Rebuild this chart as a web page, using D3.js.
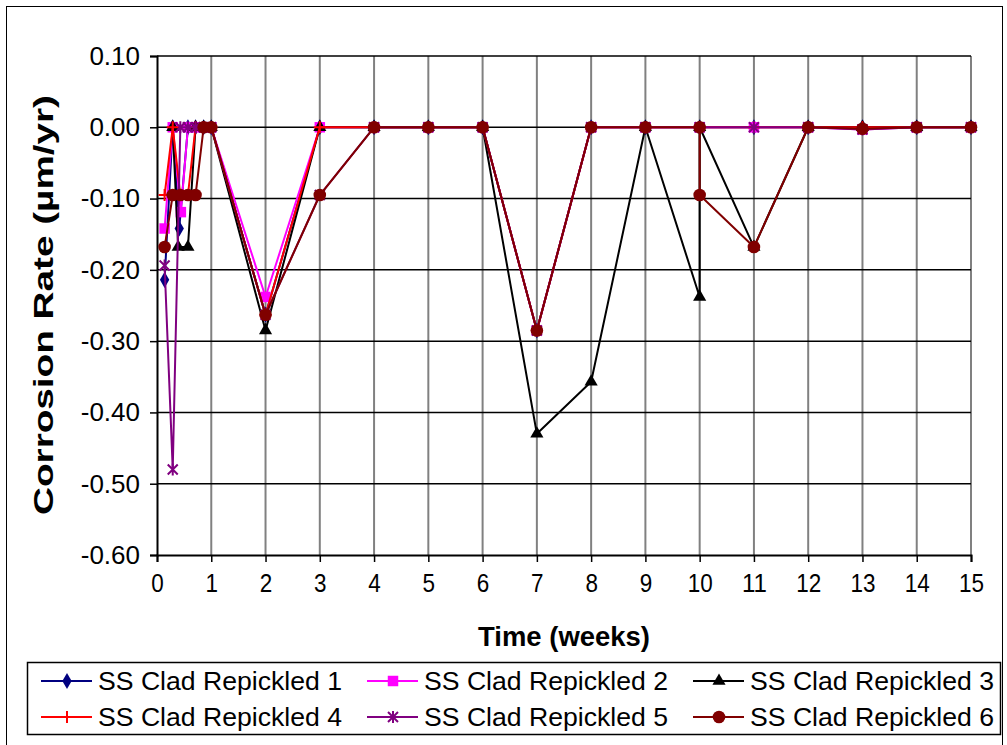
<!DOCTYPE html>
<html><head><meta charset="utf-8">
<script src="https://cdn.jsdelivr.net/npm/d3@7"></script>
<style>body{margin:0;background:#fff}svg{display:block;font-family:"Liberation Sans",Arial,sans-serif}</style>
</head><body><svg id="c" width="1007" height="745"></svg>
<script>
// ---- data ----
const seriesNames = ["SS Clad Repickled 1","SS Clad Repickled 2","SS Clad Repickled 3","SS Clad Repickled 4","SS Clad Repickled 5","SS Clad Repickled 6"];
const xTicks = [0,1,2,3,4,5,6,7,8,9,10,11,12,13,14,15];
const yTicks = [0.1,0,-0.1,-0.2,-0.3,-0.4,-0.5,-0.6];
const yTickLabels = ["0.10","0.00","-0.10","-0.20","-0.30","-0.40","-0.50","-0.60"];

const s1x = [0.14,0.29,0.41,0.57,0.71,0.86,1,2,3,4,5,6,7,8,9,10,11,12,13,14,15];
const s1y = [-0.214,0,-0.142,0,0,0,0,-0.263,0,0,0,0,-0.285,0,0,0,0,0,0,0,0];
const s2x = [0.14,0.29,0.44,0.57,0.71,0.86,1,2,3,4,5,6,7,8,9,10,11,12,13,14,15];
const s2y = [-0.142,0,-0.119,0,0,0,0,-0.238,0,0,0,0,-0.285,0,0,0,0,0,-0.003,0,0];
const s3x = [0.29,0.39,0.57,0.71,0.86,1,2,3,4,5,6,7,8,9,10,10,11,12,13,14,15];
const s3y = [0,-0.168,-0.168,0,0,0,-0.285,0,0,0,0,-0.43,-0.357,0,-0.238,0,-0.168,0,0,0,0];
const s4x = [0.14,0.29,0.43,0.57,0.71,0.86,1,2,3,4,5,6,7,8,9,10,11,12,13,14,15];
const s4y = [-0.095,0,-0.095,-0.095,0,0,0,-0.263,0,0,0,0,-0.285,0,0,0,0,0,0,0,0];
const s5x = [0.14,0.29,0.43,0.57,0.71,0.86,1,2,3,4,5,6,7,8,9,10,11,12,13,14,15];
const s5y = [-0.194,-0.48,0,0,0,0,0,-0.263,-0.095,0,0,0,-0.285,0,0,0,0,0,-0.003,0,0];
const s6x = [0.14,0.29,0.43,0.57,0.71,0.86,1,2,3,4,5,6,7,8,9,10,10,11,12,13,14,15];
const s6y = [-0.168,-0.095,-0.095,-0.095,-0.095,0,0,-0.263,-0.095,0,0,0,-0.285,0,0,0,-0.095,-0.168,0,-0.002,0,0];

const colors = ["#000080","#FF00FF","#000000","#FF0000","#800080","#800000"];
const markers = ["diamond","square","triangle","plus","star","circle"];
const xs = [s1x,s2x,s3x,s4x,s5x,s6x], ys = [s1y,s2y,s3y,s4y,s5y,s6y];

// ---- layout ----
const L=157,R=971,T=56,B=555;
const svg = d3.select("#c");
svg.append("rect").attr("x",6.5).attr("y",6.5).attr("width",996).attr("height",760).attr("fill","#fff").attr("stroke","#000").attr("stroke-width",1);

const x = d3.scaleLinear().domain([0,15]).range([L,R]);
const y = d3.scaleLinear().domain([-0.6,0.1]).range([B,T]);

// gridlines
svg.append("g").selectAll("line").data(xTicks.filter(d=>d>0)).join("line")
  .attr("x1",d=>x(d)).attr("x2",d=>x(d)).attr("y1",T).attr("y2",B)
  .attr("stroke","#808080").attr("stroke-width",2);
svg.append("g").selectAll("line").data(yTicks.filter(d=>d>-0.6)).join("line")
  .attr("x1",L).attr("x2",R).attr("y1",d=>y(d)).attr("y2",d=>y(d))
  .attr("stroke","#000").attr("stroke-width",1.5);

// axes
const yAxis = d3.axisLeft(y).tickValues(yTicks).tickSize(7).tickFormat((d,i)=>yTickLabels[i]).tickPadding(10);
const gy = svg.append("g").attr("transform",`translate(${L},0)`).call(yAxis);
const xAxis = d3.axisBottom(x).tickValues(xTicks).tickSize(7).tickFormat(d=>String(d)).tickPadding(12);
const gx = svg.append("g").attr("transform",`translate(0,${B})`).call(xAxis);
[gx,gy].forEach(g=>{
  g.select(".domain").attr("stroke","#000").attr("stroke-width",2);
  g.selectAll(".tick line").attr("stroke","#000").attr("stroke-width",1.5);
  g.selectAll(".tick text").attr("fill","#000").attr("font-size",26).attr("font-family","Liberation Sans, Arial, sans-serif");
});
gx.selectAll(".tick text").attr("textLength",d=>String(d).length*12.5).attr("lengthAdjust","spacingAndGlyphs");

// titles
svg.append("text").attr("x",564).attr("y",646).attr("text-anchor","middle")
  .attr("font-size",28).attr("font-weight","bold").attr("textLength",172).attr("lengthAdjust","spacingAndGlyphs").text("Time (weeks)");
svg.append("text").attr("transform","translate(53,305) rotate(-90)").attr("text-anchor","middle")
  .attr("font-size",28).attr("font-weight","bold").attr("textLength",420).attr("lengthAdjust","spacingAndGlyphs").text("Corrosion Rate (µm/yr)");

// markers
function drawMarker(g, type, color, cx, cy, scale){
  const s = scale||1;
  if(type==="diamond") g.append("path").attr("d",d3.symbol(d3.symbolDiamond, 75*s*s)()).attr("transform",`translate(${cx},${cy})`).attr("fill",color);
  else if(type==="square") g.append("path").attr("d",d3.symbol(d3.symbolSquare, 110*s*s)()).attr("transform",`translate(${cx},${cy})`).attr("fill",color);
  else if(type==="triangle") g.append("path").attr("d",d3.symbol(d3.symbolTriangle, 75*s*s)()).attr("transform",`translate(${cx},${cy})`).attr("fill",color);
  else if(type==="circle") g.append("circle").attr("cx",cx).attr("cy",cy).attr("r",6.3*s).attr("fill",color);
  else if(type==="plus") g.append("path").attr("d",`M${cx-6*s},${cy}H${cx+6*s}M${cx},${cy-6*s}V${cy+6*s}`).attr("stroke",color).attr("stroke-width",2).attr("fill","none");
  else if(type==="star") g.append("path").attr("d",`M${cx-5*s},${cy-5*s}L${cx+5*s},${cy+5*s}M${cx-5*s},${cy+5*s}L${cx+5*s},${cy-5*s}M${cx},${cy-6*s}V${cy+6*s}`).attr("stroke",color).attr("stroke-width",2).attr("fill","none");
}

const line = d3.line().x(d=>x(d[0])).y(d=>y(d[1]));
xs.forEach((sx,i)=>{
  const pts = sx.map((v,j)=>[v,ys[i][j]]);
  const g = svg.append("g");
  g.append("path").attr("d",line(pts)).attr("fill","none").attr("stroke",colors[i]).attr("stroke-width",2).attr("stroke-linejoin","round");
  pts.forEach(p=>drawMarker(g,markers[i],colors[i],x(p[0]),y(p[1])));
});

// legend
svg.append("rect").attr("x",27.5).attr("y",662.5).attr("width",973).attr("height",72).attr("fill","#fff").attr("stroke","#000").attr("stroke-width",1.5);
const colX = [41,367,693], rowY = [681,717];
seriesNames.forEach((n,i)=>{
  const cx = colX[i%3], cy = rowY[Math.floor(i/3)];
  const g = svg.append("g");
  g.append("line").attr("x1",cx).attr("x2",cx+51).attr("y1",cy).attr("y2",cy).attr("stroke",colors[i]).attr("stroke-width",2);
  drawMarker(g,markers[i],colors[i],cx+26,cy);
  g.append("text").attr("x",cx+57).attr("y",cy).attr("dy","0.36em").attr("font-size",25)
    .attr("textLength",244).attr("lengthAdjust","spacingAndGlyphs").text(n);
});
</script></body></html>
